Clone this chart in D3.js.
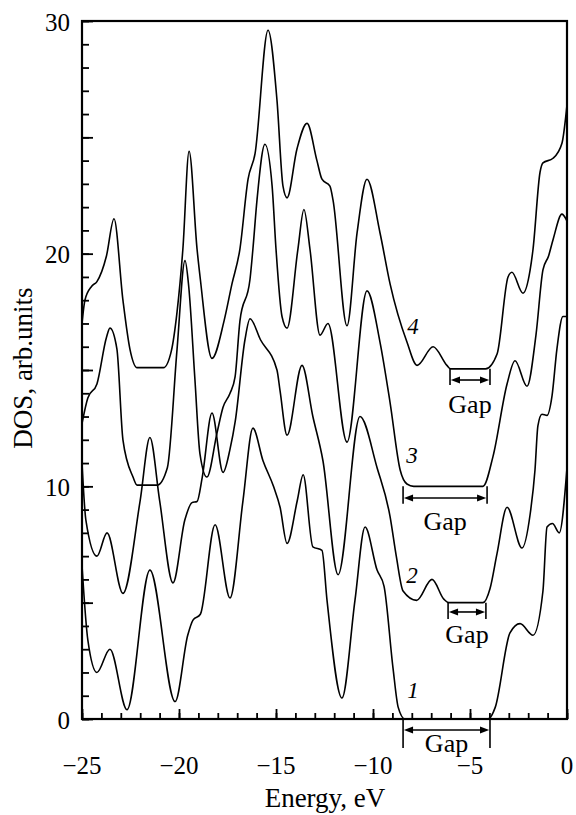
<!DOCTYPE html>
<html>
<head>
<meta charset="utf-8">
<script src="https://cdn.jsdelivr.net/npm/d3@7"></script>
<style>
  body { margin: 0; background: #fff; }
</style>
</head>
<body>
<svg id="chart" width="576" height="815"></svg>
<script>
// DOS curves, [energy eV, DOS arb.units], each shifted up by 5 from the one below
const curve1 = [
  [-25, 6.6], [-24.7, 3.4], [-24.23, 2.0], [-23.56, 3.0], [-22.68, 0.4], [-21.5, 6.4],
  [-20.2, 0.75], [-19.55, 3.6], [-19.28, 4.25], [-18.9, 4.5], [-18.14, 8.35], [-17.37, 5.2],
  [-16.7, 9.4], [-16.19, 12.5], [-15.67, 11.1], [-15.13, 10.0], [-14.79, 9.1], [-14.43, 7.55],
  [-13.9, 9.4], [-13.6, 10.5], [-13.1, 7.4], [-12.63, 7.25], [-12.37, 5.1], [-11.6, 0.9],
  [-10.93, 5.1], [-10.41, 8.25], [-9.79, 6.4], [-9.43, 5.7], [-8.97, 2.2], [-8.7, 0.5],
  [-8.35, 0], [-4.07, 0], [-3.7, 0.5], [-2.94, 3.7], [-2.42, 4.1], [-1.75, 3.6],
  [-1.24, 5.5], [-1.03, 8.25], [-0.75, 8.4], [-0.4, 8.0], [0, 10.8]
];
const curve2 = [
  [-25, 11.0], [-24.8, 8.55], [-24.23, 7.0], [-23.71, 8.0], [-22.89, 5.4], [-22.0, 9.4],
  [-21.5, 12.1], [-21.0, 9.4], [-20.31, 5.85], [-19.7, 8.55], [-19.33, 9.3], [-19.07, 9.35],
  [-18.8, 10.4], [-18.3, 13.15], [-17.73, 10.6], [-17.37, 11.6], [-17.1, 12.8], [-16.6, 16.3],
  [-16.34, 17.2], [-15.8, 16.3], [-14.95, 15.0], [-14.79, 14.1], [-14.43, 12.2], [-13.66, 15.2],
  [-13.1, 13.0], [-12.58, 11.1], [-11.8, 6.2], [-10.67, 13.0], [-9.79, 10.8], [-9.12, 8.7],
  [-8.8, 7.0], [-8.45, 5.5], [-7.75, 5.1], [-6.96, 6.0], [-6.35, 5.15], [-6.1, 5.0],
  [-4.33, 5.0], [-3.97, 5.6], [-3.61, 7.1], [-3.09, 9.1], [-2.32, 7.35], [-1.9, 8.8],
  [-1.65, 10.7], [-1.5, 12.6], [-1.29, 13.1], [-1.03, 13.05], [-0.77, 13.9], [-0.52, 15.9],
  [-0.21, 17.3], [0, 17.3]
];
const curve3 = [
  [-25, 12.7], [-24.7, 13.8], [-24.23, 14.4], [-23.74, 16.4], [-23.56, 16.8], [-23.2, 15.9],
  [-22.89, 12.0], [-22.37, 10.4], [-22.16, 10.05], [-21.13, 10.05], [-20.6, 10.8], [-20.1, 15.9],
  [-19.69, 19.7], [-19.5, 18.6], [-19.18, 14.6], [-18.92, 11.4], [-18.56, 10.4], [-18.04, 12.3],
  [-17.73, 13.4], [-17.37, 14.0], [-17.11, 14.7], [-16.86, 17.1], [-16.34, 18.9], [-16.19, 20.2],
  [-15.98, 22.3], [-15.57, 24.7], [-15.2, 22.9], [-15.0, 20.2], [-14.69, 17.3], [-14.43, 16.8],
  [-13.87, 20.2], [-13.56, 21.9], [-13.25, 20.2], [-12.73, 16.5], [-12.32, 17.0], [-11.34, 11.9],
  [-10.31, 18.4], [-9.64, 16.2], [-9.12, 13.6], [-8.6, 10.7], [-8.25, 10.1], [-7.9, 10.0],
  [-4.33, 10.0], [-3.81, 11.3], [-3.09, 14.4], [-2.68, 15.4], [-2.06, 14.3], [-1.6, 16.5],
  [-1.24, 19.3], [-0.95, 19.9], [-0.72, 20.6], [-0.26, 21.7], [0, 21.4]
];
const curve4 = [
  [-25, 17.0], [-24.85, 18.0], [-24.5, 18.6], [-24.23, 18.8], [-23.74, 19.9], [-23.35, 21.5],
  [-22.89, 18.0], [-22.53, 15.9], [-22.16, 15.1], [-20.8, 15.1], [-20.4, 15.8], [-20.1, 17.5],
  [-19.8, 20.2], [-19.48, 24.4], [-19.07, 20.2], [-18.9, 18.9], [-18.3, 15.5], [-17.68, 17.1],
  [-17.27, 18.7], [-16.86, 20.2], [-16.44, 23.2], [-16.08, 24.3], [-15.41, 29.6], [-14.95, 26.6],
  [-14.64, 22.9], [-14.43, 22.4], [-13.92, 24.5], [-13.4, 25.6], [-12.89, 24.0], [-12.63, 23.2],
  [-12.22, 22.9], [-12.06, 22.3], [-11.34, 16.9], [-10.82, 20.9], [-10.31, 23.2], [-9.64, 20.9],
  [-9.12, 18.7], [-8.25, 16.2], [-7.73, 15.2], [-6.9, 16.0], [-6.19, 15.2], [-6.0, 15.05],
  [-4.2, 15.05], [-3.6, 15.7], [-3.04, 19.0], [-2.84, 19.2], [-2.27, 18.3], [-1.9, 19.3],
  [-1.75, 20.2], [-1.39, 23.5], [-1.24, 23.9], [-0.72, 24.1], [-0.26, 24.75], [0, 26.4]
];
const curves = [curve1, curve2, curve3, curve4];
const curveNames = ["1", "2", "3", "4"];
const nameAt = [[-7.94, 1.25], [-7.99, 6.2], [-7.99, 11.35], [-7.94, 16.9]];

// band gaps: energy range, bar span and arrow level (DOS units)
const gapFrom = [-8.45, -6.13, -8.45, -6.03];
const gapTo = [-3.97, -4.18, -4.12, -3.97];
const gapTop = [0, 5, 10, 15.05];
const gapBottom = [-1.25, 4.3, 9.25, 14.35];
const gapArrow = [-0.47, 4.6, 9.5, 14.57];
const gapText = [-1.4, 3.27, 8.12, 13.15];

const xTicks = [-25, -20, -15, -10, -5, 0];
const yTicks = [0, 10, 20, 30];

const FONT = "Liberation Serif, Tinos, Times, Nimbus Roman, FreeSerif, DejaVu Serif, serif";

const svg = d3.select("#chart");
const x = d3.scaleLinear().domain([-25, 0]).range([82, 567]);
const y = d3.scaleLinear().domain([0, 30]).range([719, 21]);

svg.append("clipPath").attr("id", "plot")
  .append("rect").attr("x", 82).attr("y", 21).attr("width", 485).attr("height", 698);

// inward ticks, minor every 1, major every 5
const tickAxis = (gen) => {
  const g = svg.append("g").call(gen);
  g.select(".domain").remove();
  g.selectAll("text").remove();
  g.selectAll("line").attr("stroke", "#000").attr("stroke-width", 1.8);
  return g;
};
tickAxis(d3.axisLeft(y).tickValues(d3.range(0, 31, 1)).tickSize(-7)).attr("transform", "translate(82,0)");
tickAxis(d3.axisLeft(y).tickValues(d3.range(0, 31, 5)).tickSize(-11)).attr("transform", "translate(82,0)");
tickAxis(d3.axisBottom(x).tickValues(d3.range(-25, 1, 1)).tickSize(-6)).attr("transform", "translate(0,719)");
tickAxis(d3.axisBottom(x).tickValues(xTicks).tickSize(-10)).attr("transform", "translate(0,719)");

svg.append("rect")
  .attr("x", 82).attr("y", 21).attr("width", 485).attr("height", 698)
  .attr("fill", "none").attr("stroke", "#000").attr("stroke-width", 2.2);

const texts = svg.append("g").attr("font-family", FONT).attr("fill", "#000");

// tick labels
texts.append("g").selectAll("text").data(yTicks).join("text")
  .attr("x", 70).attr("y", d => y(d) + 9.5)
  .attr("text-anchor", "end").attr("font-size", 25)
  .text(d => d);
texts.append("g").selectAll("text").data(xTicks).join("text")
  .attr("x", d => x(d)).attr("y", 774)
  .attr("text-anchor", "middle").attr("font-size", 25)
  .text(d => d === 0 ? "0" : "\u2212" + Math.abs(d));

texts.append("text")
  .attr("x", 325).attr("y", 807)
  .attr("text-anchor", "middle").attr("font-size", 27)
  .text("Energy, eV");
texts.append("text")
  .attr("transform", "translate(32,368) rotate(-90)")
  .attr("text-anchor", "middle").attr("font-size", 27)
  .text("DOS, arb.units");

// curves
const line = d3.line()
  .x(d => x(d[0]))
  .y(d => y(d[1]))
  .curve(d3.curveMonotoneX);

svg.append("g").attr("clip-path", "url(#plot)")
  .selectAll("path").data(curves).join("path")
  .attr("d", line)
  .attr("fill", "none")
  .attr("stroke", "#000")
  .attr("stroke-width", 1.6)
  .attr("stroke-linejoin", "round");

// curve numbers
texts.append("g").selectAll("text").data(nameAt).join("text")
  .attr("x", d => x(d[0])).attr("y", d => y(d[1]) + 8)
  .attr("text-anchor", "middle").attr("font-size", 23).attr("font-style", "italic")
  .text((d, i) => curveNames[i]);

// gap markers
const gaps = svg.append("g").attr("stroke", "#000").attr("stroke-width", 1.6);
gapFrom.forEach((g0, i) => {
  const x0 = x(g0), x1 = x(gapTo[i]), ya = y(gapArrow[i]);
  [x0, x1].forEach(xx => {
    gaps.append("line").attr("x1", xx).attr("x2", xx)
      .attr("y1", y(gapTop[i])).attr("y2", y(gapBottom[i]));
  });
  gaps.append("line").attr("x1", x0 + 4).attr("x2", x1 - 4).attr("y1", ya).attr("y2", ya);
  gaps.append("path").attr("stroke", "none").attr("fill", "#000")
    .attr("d", `M${x0 + 0.8},${ya}L${x0 + 10},${ya - 3.5}L${x0 + 10},${ya + 3.5}Z`);
  gaps.append("path").attr("stroke", "none").attr("fill", "#000")
    .attr("d", `M${x1 - 0.8},${ya}L${x1 - 10},${ya - 3.5}L${x1 - 10},${ya + 3.5}Z`);
  texts.append("text")
    .attr("x", (x0 + x1) / 2).attr("y", y(gapText[i]))
    .attr("text-anchor", "middle").attr("font-size", 26)
    .text("Gap");
});
</script>
</body>
</html>
